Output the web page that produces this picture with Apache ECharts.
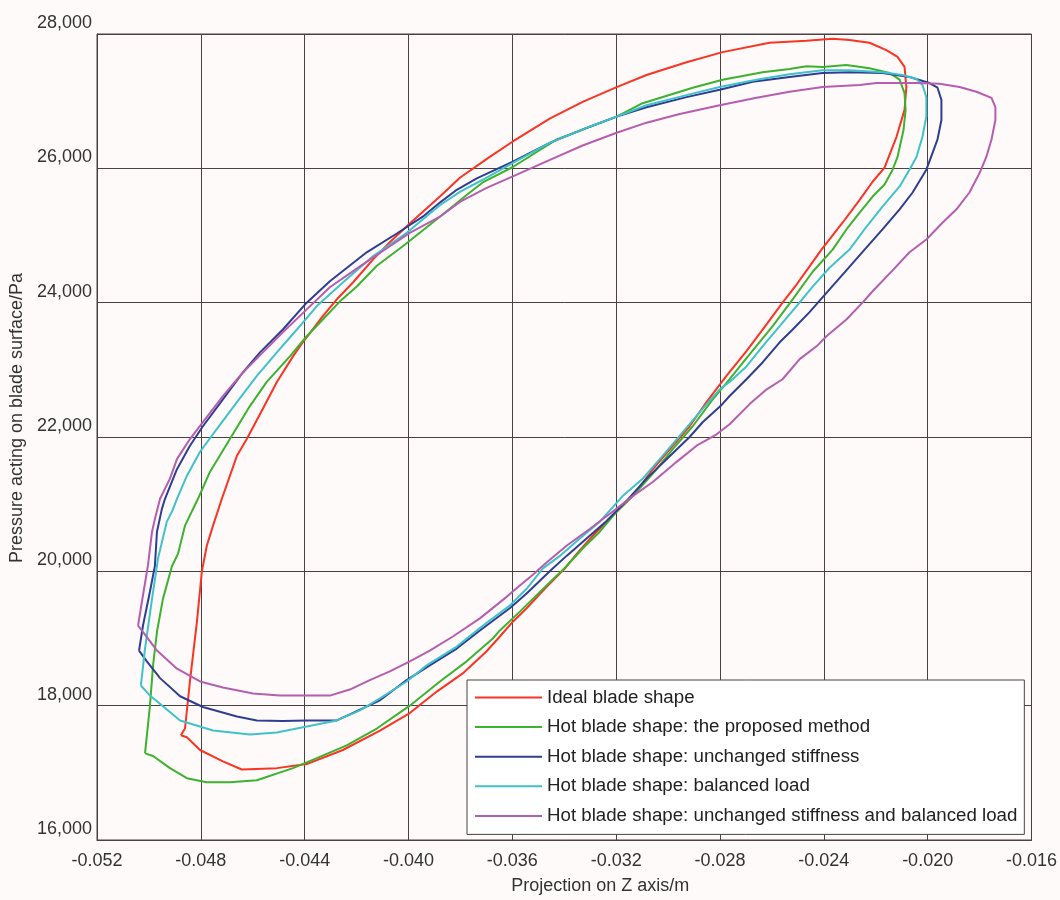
<!DOCTYPE html>
<html>
<head>
<meta charset="utf-8">
<title>Blade pressure loops</title>
<script src="https://cdn.jsdelivr.net/npm/echarts@6/dist/echarts.min.js"></script>
<style>
  html, body { margin: 0; padding: 0; background: #fefafa; }
  #chart { width: 1060px; height: 900px; }
</style>
</head>
<body>
<div id="chart"></div>
<script>
// series names (legend order)
var seriesNames = [
  'Ideal blade shape',
  'Hot blade shape: the proposed method',
  'Hot blade shape: unchanged stiffness',
  'Hot blade shape: balanced load',
  'Hot blade shape: unchanged stiffness and balanced load'
];

// [z projection (m), pressure (Pa)], each a closed loop
var idealShape = [
  [-0.04877,17560],[-0.04861,17660],[-0.04842,18360],[-0.04815,19250],[-0.04796,20000],[-0.04777,20380],
  [-0.04753,20680],[-0.04719,21080],[-0.04661,21720],[-0.04623,21970],[-0.04561,22420],[-0.04507,22820],
  [-0.04445,23200],[-0.04407,23410],[-0.04330,23800],[-0.04276,24050],[-0.04214,24300],[-0.04137,24640],
  [-0.04072,24900],[-0.03995,25180],[-0.03879,25580],[-0.03802,25860],[-0.03687,26170],[-0.03598,26400],
  [-0.03456,26740],[-0.03329,26990],[-0.03198,27210],[-0.03083,27390],[-0.02929,27580],[-0.02790,27730],
  [-0.02609,27870],[-0.02467,27900],[-0.02366,27930],[-0.02301,27910],[-0.02224,27870],[-0.02159,27760],
  [-0.02116,27660],[-0.02089,27510],[-0.02082,27210],[-0.02089,26870],[-0.02120,26470],[-0.02166,26010],
  [-0.02212,25800],[-0.02262,25530],[-0.02328,25190],[-0.02409,24790],[-0.02455,24540],[-0.02505,24270],
  [-0.02559,24000],[-0.02620,23680],[-0.02698,23280],[-0.02775,22910],[-0.02852,22520],[-0.02917,22160],
  [-0.02982,21870],[-0.03059,21520],[-0.03136,21120],[-0.03213,20830],[-0.03290,20530],[-0.03352,20260],
  [-0.03398,20040],[-0.03475,19740],[-0.03545,19450],[-0.03598,19250],[-0.03648,19030],[-0.03699,18810],
  [-0.03791,18480],[-0.03891,18210],[-0.03995,17890],[-0.04110,17630],[-0.04253,17340],[-0.04392,17130],
  [-0.04507,17070],[-0.04642,17050],[-0.04715,17170],[-0.04803,17340],[-0.04854,17530],[-0.04877,17560]
];

var proposedMethod = [
  [-0.05015,17290],[-0.04996,18000],[-0.04984,18600],[-0.04969,19100],[-0.04946,19590],[-0.04911,20080],
  [-0.04888,20260],[-0.04861,20680],[-0.04811,21080],[-0.04765,21480],[-0.04688,21970],[-0.04611,22460],
  [-0.04546,22820],[-0.04457,23200],[-0.04392,23500],[-0.04330,23750],[-0.04264,24020],[-0.04199,24240],
  [-0.04122,24550],[-0.04022,24840],[-0.03879,25280],[-0.03764,25640],[-0.03714,25790],[-0.03598,26020],
  [-0.03429,26430],[-0.03198,26770],[-0.03098,26970],[-0.02905,27200],[-0.02790,27320],[-0.02636,27430],
  [-0.02532,27480],[-0.02467,27520],[-0.02405,27510],[-0.02313,27540],[-0.02224,27490],[-0.02147,27420],
  [-0.02108,27320],[-0.02089,27120],[-0.02085,26870],[-0.02093,26570],[-0.02116,26170],[-0.02135,25980],
  [-0.02166,25760],[-0.02212,25580],[-0.02262,25340],[-0.02313,25090],[-0.02366,24790],[-0.02443,24460],
  [-0.02520,24050],[-0.02597,23650],[-0.02686,23230],[-0.02763,22860],[-0.02828,22560],[-0.02905,22160],
  [-0.02982,21820],[-0.03044,21520],[-0.03136,21120],[-0.03198,20890],[-0.03263,20590],[-0.03329,20340],
  [-0.03398,20050],[-0.03468,19790],[-0.03521,19590],[-0.03571,19400],[-0.03648,19120],[-0.03675,19000],
  [-0.03776,18660],[-0.03879,18360],[-0.03995,18000],[-0.04122,17660],[-0.04238,17410],[-0.04353,17220],
  [-0.04445,17070],[-0.04584,16890],[-0.04688,16860],[-0.04777,16860],[-0.04854,16920],[-0.04919,17070],
  [-0.04984,17250],[-0.05015,17290]
];

var unchangedStiffness = [
  [-0.05038,18820],[-0.05023,19190],[-0.04996,19700],[-0.04977,20080],[-0.04969,20590],[-0.04950,20930],
  [-0.04938,21080],[-0.04892,21520],[-0.04842,21870],[-0.04792,22160],[-0.04715,22560],[-0.04638,22960],
  [-0.04572,23260],[-0.04484,23600],[-0.04392,24000],[-0.04303,24320],[-0.04161,24750],[-0.04045,25030],
  [-0.03945,25280],[-0.03879,25490],[-0.03814,25680],[-0.03737,25850],[-0.03598,26100],[-0.03456,26380],
  [-0.03302,26620],[-0.03198,26770],[-0.03083,26910],[-0.02929,27060],[-0.02801,27170],[-0.02674,27290],
  [-0.02532,27360],[-0.02405,27420],[-0.02301,27430],[-0.02174,27420],[-0.02070,27360],[-0.01993,27270],
  [-0.01962,27200],[-0.01947,27020],[-0.01947,26720],[-0.01962,26430],[-0.01981,26230],[-0.02005,25980],
  [-0.02058,25640],[-0.02108,25390],[-0.02174,25090],[-0.02243,24790],[-0.02320,24450],[-0.02405,24080],
  [-0.02455,23860],[-0.02520,23600],[-0.02570,23410],[-0.02636,23110],[-0.02698,22860],[-0.02763,22610],
  [-0.02798,22460],[-0.02867,22220],[-0.02917,22000],[-0.03006,21670],[-0.03083,21380],[-0.03160,21050],
  [-0.03237,20750],[-0.03314,20490],[-0.03391,20230],[-0.03456,20000],[-0.03545,19670],[-0.03610,19450],
  [-0.03725,19120],[-0.03814,18850],[-0.03918,18600],[-0.04007,18380],[-0.04110,18080],[-0.04199,17920],
  [-0.04276,17780],[-0.04392,17780],[-0.04484,17770],[-0.04584,17780],[-0.04661,17840],[-0.04792,17980],
  [-0.04880,18140],[-0.04957,18410],[-0.05008,18660],[-0.05038,18820]
];

var balancedLoad = [
  [-0.05031,18300],[-0.05015,18850],[-0.04988,19590],[-0.04965,20190],[-0.04931,20740],[-0.04911,20890],
  [-0.04892,21080],[-0.04854,21420],[-0.04803,21780],[-0.04738,22120],[-0.04661,22520],[-0.04584,22910],
  [-0.04507,23260],[-0.04430,23600],[-0.04353,23950],[-0.04253,24300],[-0.04137,24690],[-0.04007,25040],
  [-0.03879,25450],[-0.03802,25650],[-0.03714,25830],[-0.03598,26080],[-0.03456,26380],[-0.03302,26620],
  [-0.03198,26770],[-0.03083,26940],[-0.02929,27090],[-0.02801,27210],[-0.02659,27320],[-0.02532,27400],
  [-0.02405,27460],[-0.02301,27460],[-0.02174,27430],[-0.02097,27390],[-0.02043,27330],[-0.02020,27240],
  [-0.02005,27060],[-0.02005,26770],[-0.02020,26470],[-0.02043,26170],[-0.02070,25980],[-0.02108,25730],
  [-0.02174,25430],[-0.02236,25130],[-0.02301,24790],[-0.02378,24520],[-0.02443,24240],[-0.02505,23950],
  [-0.02570,23650],[-0.02636,23350],[-0.02698,23050],[-0.02763,22820],[-0.02801,22710],[-0.02878,22370],
  [-0.02944,22070],[-0.03021,21720],[-0.03098,21380],[-0.03175,21120],[-0.03263,20740],[-0.03340,20490],
  [-0.03417,20230],[-0.03483,20040],[-0.03545,19740],[-0.03610,19490],[-0.03714,19190],[-0.03814,18880],
  [-0.03930,18600],[-0.04007,18360],[-0.04110,18110],[-0.04187,17930],[-0.04276,17780],[-0.04392,17690],
  [-0.04507,17600],[-0.04611,17570],[-0.04753,17630],[-0.04880,17780],[-0.04996,18150],[-0.05031,18300]
];

var stiffnessAndLoad = [
  [-0.05042,19190],[-0.05023,19640],[-0.05004,20080],[-0.04988,20590],[-0.04977,20780],[-0.04957,21080],
  [-0.04919,21380],[-0.04892,21670],[-0.04842,21970],[-0.04792,22220],[-0.04715,22610],[-0.04638,22960],
  [-0.04561,23260],[-0.04484,23560],[-0.04392,23900],[-0.04303,24230],[-0.04187,24540],[-0.04072,24840],
  [-0.03995,25040],[-0.03879,25280],[-0.03802,25500],[-0.03699,25710],[-0.03598,25880],[-0.03429,26170],
  [-0.03329,26340],[-0.03198,26530],[-0.03083,26680],[-0.02955,26810],[-0.02801,26940],[-0.02659,27050],
  [-0.02532,27140],[-0.02405,27210],[-0.02262,27240],[-0.02197,27270],[-0.02043,27270],[-0.01954,27260],
  [-0.01877,27210],[-0.01812,27140],[-0.01754,27050],[-0.01739,26910],[-0.01739,26720],[-0.01754,26430],
  [-0.01774,26170],[-0.01800,25930],[-0.01839,25640],[-0.01889,25390],[-0.01943,25190],[-0.02005,24940],
  [-0.02070,24750],[-0.02135,24480],[-0.02212,24170],[-0.02251,24000],[-0.02313,23750],[-0.02390,23500],
  [-0.02428,23350],[-0.02493,23160],[-0.02559,22860],[-0.02620,22710],[-0.02686,22490],[-0.02763,22190],
  [-0.02813,22040],[-0.02890,21870],[-0.02967,21630],[-0.03059,21330],[-0.03136,21120],[-0.03213,20890],
  [-0.03302,20630],[-0.03391,20380],[-0.03468,20130],[-0.03521,19950],[-0.03571,19790],[-0.03622,19620],
  [-0.03725,19300],[-0.03829,19030],[-0.03918,18820],[-0.03995,18660],[-0.04072,18510],[-0.04149,18380],
  [-0.04226,18240],[-0.04303,18150],[-0.04392,18150],[-0.04495,18150],[-0.04599,18180],[-0.04715,18270],
  [-0.04803,18360],[-0.04892,18550],[-0.04969,18820],[-0.05023,19100],[-0.05042,19190]
];

var seriesData = [idealShape, proposedMethod, unchangedStiffness, balancedLoad, stiffnessAndLoad];
var seriesColors = ['#fa3422', '#3db22f', '#2e3e92', '#3fc2c9', '#b65eae'];

var fontName = 'Liberation Sans, Arial, sans-serif';
var gridColor = '#4a4242';

var myChart = echarts.init(document.getElementById('chart'));

var series = [];
for (var i = 0; i < seriesData.length; i++) {
  series.push({
    name: seriesNames[i],
    type: 'line',
    data: seriesData[i],
    symbol: 'none',
    smooth: false,
    lineStyle: { width: 2, color: seriesColors[i] },
    itemStyle: { color: seriesColors[i] }
  });
}

myChart.setOption({
  animation: false,
  backgroundColor: '#fefafa',
  textStyle: { fontFamily: fontName },
  grid: {
    left: 97,
    right: 28,
    top: 34,
    bottom: 58,
    show: true,
    borderColor: gridColor,
    borderWidth: 1
  },
  legend: {
    orient: 'vertical',
    left: 467,
    top: 680,
    padding: [8, 7, 9, 8],
    itemGap: 10.6,
    itemWidth: 67,
    itemHeight: 2,
    icon: 'rect',
    align: 'left',
    backgroundColor: '#ffffff',
    borderColor: gridColor,
    borderWidth: 1,
    borderRadius: 0,
    data: seriesNames,
    textStyle: { fontSize: 18.7, color: '#222222', fontFamily: fontName }
  },
  xAxis: {
    type: 'value',
    min: -0.052,
    max: -0.016,
    interval: 0.004,
    name: 'Projection on Z axis/m',
    nameLocation: 'middle',
    nameGap: 37,
    nameTextStyle: { fontSize: 18, color: '#333333', padding: [0, 0, 0, 72] },
    axisLine: { show: true, onZero: false, lineStyle: { color: gridColor, width: 1 } },
    axisTick: { show: false },
    axisLabel: {
      fontSize: 18,
      color: '#333333',
      margin: 12,
      formatter: function (v) { return v.toFixed(3); }
    },
    splitLine: { show: true, lineStyle: { color: gridColor, width: 1 } }
  },
  yAxis: {
    type: 'value',
    min: 16000,
    max: 28000,
    interval: 2000,
    name: 'Pressure acting on blade surface/Pa',
    nameLocation: 'middle',
    nameRotate: 90,
    nameGap: 68,
    nameTextStyle: { fontSize: 18, color: '#333333', padding: [0, 0, 0, 38] },
    axisLine: { show: true, onZero: false, lineStyle: { color: gridColor, width: 1 } },
    axisTick: { show: false },
    axisLabel: {
      fontSize: 18,
      color: '#333333',
      margin: 5,
      verticalAlign: 'bottom',
      lineHeight: 22,
      formatter: function (v) { return v.toLocaleString('en-US'); }
    },
    splitLine: { show: true, lineStyle: { color: gridColor, width: 1 } }
  },
  series: series
});
</script>
</body>
</html>
